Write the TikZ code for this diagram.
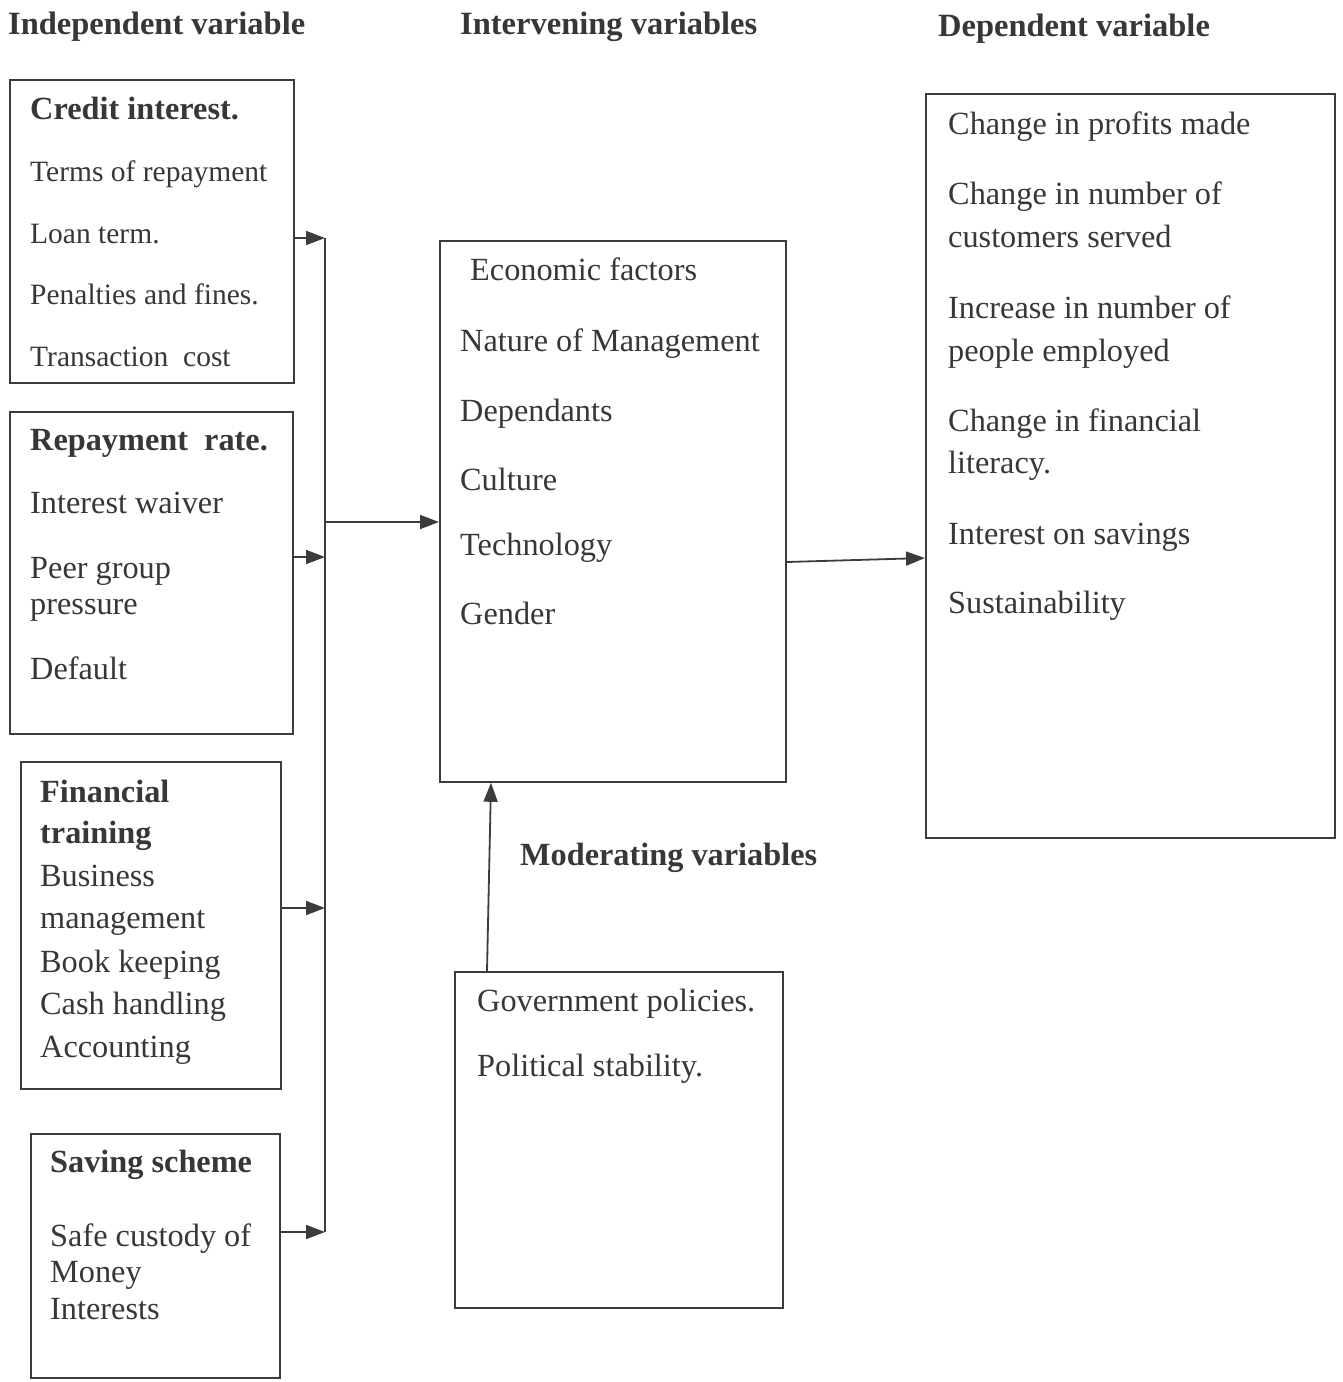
\documentclass[tikz,border=0pt]{standalone}
\usepackage{fontspec}
\setmainfont{Liberation Serif}
\usetikzlibrary{arrows.meta}
\definecolor{ink}{RGB}{55,55,55}
\definecolor{lin}{RGB}{60,60,60}
\begin{document}
\begin{tikzpicture}[x=1pt,y=-1pt,
  box/.style={draw=lin,line width=1.8pt,inner sep=0pt,anchor=north west},
  txt/.style={anchor=base west,inner sep=0pt,text=ink,font=\fontsize{32.3}{36}\selectfont},
  stxt/.style={anchor=base west,inner sep=0pt,text=ink,font=\fontsize{29.5}{34}\selectfont},
  btxt/.style={anchor=base west,inner sep=0pt,text=ink,font=\fontsize{32.3}{36}\selectfont\bfseries},
  head/.style={anchor=base west,inner sep=0pt,text=ink,font=\fontsize{32.5}{36}\selectfont\bfseries},
  conn/.style={draw=lin,line width=1.8pt},
  arr/.style={conn,-{Triangle[length=19pt,width=14pt]}}]
\useasboundingbox (0,0) rectangle (1342,1382);
\fill[white] (0,0) rectangle (1342,1382);

% headers
\node[head] (h1) at (8,34) {Independent variable};
\node[head] (h2) at (460,34) {Intervening variables};
\node[head] (h3) at (938,36) {Dependent variable};

% boxes
\node[box,minimum width=284pt,minimum height=303pt] (b1) at (9,79) {};
\node[box,minimum width=283pt,minimum height=322pt] (b2) at (9,411) {};
\node[box,minimum width=260pt,minimum height=327pt] (b3) at (20,761) {};
\node[box,minimum width=249pt,minimum height=244pt] (b4) at (30,1133) {};
\node[box,minimum width=346pt,minimum height=541pt] (mid) at (439,240) {};
\node[box,minimum width=409pt,minimum height=744pt] (dep) at (925,93) {};
\node[box,minimum width=328pt,minimum height=336pt] (mod) at (454,971) {};

% box 1
\node[btxt] (t11) at (30,119) {Credit interest.};
\node[stxt] (t12) at (30,181) {Terms of repayment};
\node[stxt] (t13) at (30,243) {Loan term.};
\node[stxt] (t14) at (30,304) {Penalties and fines.};
\node[stxt] (t15) at (30,366) {Transaction\ \ cost};
% box 2
\node[btxt] (t21) at (30,450) {Repayment\ \ rate.};
\node[txt] (t22) at (30,513) {Interest waiver};
\node[txt] (t23) at (30,578) {Peer group};
\node[txt] (t24) at (30,614) {pressure};
\node[txt] (t25) at (30,679) {Default};
% box 3
\node[btxt] (t31) at (40,802) {Financial};
\node[btxt] (t32) at (40,843) {training};
\node[txt] (t33) at (40,886) {Business};
\node[txt] (t34) at (40,928) {management};
\node[txt] (t35) at (40,972) {Book keeping};
\node[txt] (t36) at (40,1014) {Cash handling};
\node[txt] (t37) at (40,1057) {Accounting};
% box 4
\node[btxt] (t41) at (50,1172) {Saving scheme};
\node[txt] (t42) at (50,1246) {Safe custody of};
\node[txt] (t43) at (50,1282) {Money};
\node[txt] (t44) at (50,1319) {Interests};
% middle
\node[txt] (m1) at (470,280) {Economic factors};
\node[txt] (m2) at (460,351) {Nature of Management};
\node[txt] (m3) at (460,421) {Dependants};
\node[txt] (m4) at (460,490) {Culture};
\node[txt] (m5) at (460,555) {Technology};
\node[txt] (m6) at (460,624) {Gender};
% dependent
\node[txt] (d1) at (948,134) {Change in profits made};
\node[txt] (d2) at (948,204) {Change in number of};
\node[txt] (d3) at (948,247) {customers served};
\node[txt] (d4) at (948,318) {Increase in number of};
\node[txt] (d5) at (948,361) {people employed};
\node[txt] (d6) at (948,431) {Change in financial};
\node[txt] (d7) at (948,473) {literacy.};
\node[txt] (d8) at (948,544) {Interest on savings};
\node[txt] (d9) at (948,613) {Sustainability};
% moderating
\node[btxt] (mv) at (520,865) {Moderating variables};
\node[txt] (g1) at (477,1011) {Government policies.};
\node[txt] (g2) at (477,1076) {Political stability.};

% connectors
\coordinate (j1) at (325,238);
\coordinate (j2) at (325,557);
\coordinate (j3) at (325,908);
\coordinate (j4) at (325,1232);
\coordinate (jm) at (325,522);
\coordinate (jr1) at (800,562);
\coordinate (jr2) at (900,558);
\coordinate (ja1) at (487,900);
\coordinate (ja2) at (491,900);
\draw[conn] (j1) -- (j4);
\draw[arr] (b1.east |- j1) -- (j1);
\draw[arr] (b2.east |- j2) -- (j2);
\draw[arr] (b3.east |- j3) -- (j3);
\draw[arr] (b4.east |- j4) -- (j4);
\draw[arr] (jm) -- (mid.west |- jm);
\draw[arr] (mid.east |- jr1) -- (dep.west |- jr2);
\draw[arr] (mod.north -| ja1) -- (mid.south -| ja2);
\end{tikzpicture}
\end{document}
